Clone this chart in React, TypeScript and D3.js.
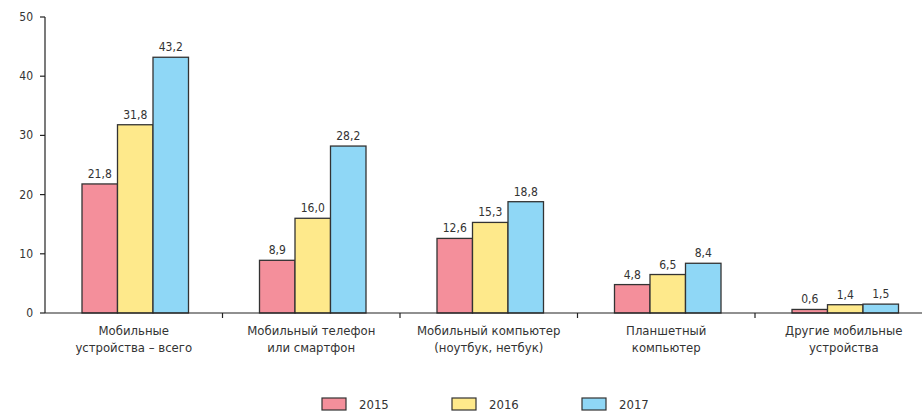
import * as d3 from 'd3';
import React, {useEffect, useRef} from 'react';

// categories (two-line labels) and series values
const categories = [
  ['Мобильные', 'устройства – всего'],
  ['Мобильный телефон', 'или смартфон'],
  ['Мобильный компьютер', '(ноутбук, нетбук)'],
  ['Планшетный', 'компьютер'],
  ['Другие мобильные', 'устройства'],
];
const years = ['2015', '2016', '2017'];
const values2015 = [21.8, 8.9, 12.6, 4.8, 0.6];
const values2016 = [31.8, 16.0, 15.3, 6.5, 1.4];
const values2017 = [43.2, 28.2, 18.8, 8.4, 1.5];
const yTicks = [0, 10, 20, 30, 40, 50];
const colors = ['#f48f9b', '#fee98b', '#8fd7f6'];

export default function App() {
  const ref = useRef<SVGSVGElement>(null);

  useEffect(() => {
    const svg = d3.select(ref.current);
    svg.selectAll('*').remove();

    const left = 45, right = 922, top = 17, bottom = 313;
    const font = '"DejaVu Sans Condensed", "DejaVu Sans", sans-serif';
    const series = [values2015, values2016, values2017];

    const x = d3.scaleBand<number>()
      .domain(d3.range(categories.length))
      .range([left, left + 177.5 * categories.length]);
    const inner = d3.scaleBand<number>()
      .domain(d3.range(years.length))
      .range([37, x.bandwidth() - 34]);
    const y = d3.scaleLinear().domain([0, 50]).range([bottom, top]);

    // y axis
    svg.append('line')
      .attr('x1', left).attr('x2', left)
      .attr('y1', top).attr('y2', bottom)
      .attr('stroke', '#222').attr('stroke-width', 1.2);
    const yt = svg.append('g');
    yt.selectAll('line').data(yTicks).enter().append('line')
      .attr('x1', left - 5).attr('x2', left)
      .attr('y1', d => y(d)).attr('y2', d => y(d))
      .attr('stroke', '#222').attr('stroke-width', 1.2);
    yt.selectAll('text').data(yTicks).enter().append('text')
      .attr('x', left - 12).attr('y', d => y(d) + 4)
      .attr('text-anchor', 'end')
      .style('font-family', font).style('font-size', '12px')
      .attr('fill', '#333')
      .text(d => d);

    // bars
    series.forEach((vals, s) => {
      svg.append('g').selectAll('rect').data(vals).enter().append('rect')
        .attr('x', (d, i) => x(i)! + inner(s)!)
        .attr('y', d => y(d))
        .attr('width', inner.bandwidth())
        .attr('height', d => bottom - y(d))
        .attr('fill', colors[s])
        .attr('stroke', '#333').attr('stroke-width', 1.3);
      svg.append('g').selectAll('text').data(vals).enter().append('text')
        .attr('x', (d, i) => x(i)! + inner(s)! + inner.bandwidth() / 2)
        .attr('y', d => y(d) - 6)
        .attr('text-anchor', 'middle')
        .style('font-family', font).style('font-size', '12px')
        .attr('fill', '#333')
        .text(d => d.toFixed(1).replace('.', ','));
    });

    // x axis
    svg.append('line')
      .attr('x1', left).attr('x2', right)
      .attr('y1', bottom).attr('y2', bottom)
      .attr('stroke', '#222').attr('stroke-width', 1.2);
    svg.append('g').selectAll('line').data(d3.range(1, categories.length)).enter().append('line')
      .attr('x1', d => x(d)!).attr('x2', d => x(d)!)
      .attr('y1', bottom).attr('y2', bottom + 5)
      .attr('stroke', '#222').attr('stroke-width', 1.2);
    categories.forEach((lines, i) => {
      const t = svg.append('text')
        .attr('text-anchor', 'middle')
        .style('font-family', font).style('font-size', '13px')
        .attr('fill', '#333');
      lines.forEach((ln, k) => {
        t.append('tspan')
          .attr('x', x(i)! + x.bandwidth() / 2)
          .attr('y', 335 + k * 17)
          .text(ln);
      });
    });

    // legend
    const lg = svg.append('g');
    years.forEach((yr, s) => {
      const lx = 322 + s * 130;
      lg.append('rect')
        .attr('x', lx).attr('y', 398).attr('width', 24).attr('height', 12)
        .attr('fill', colors[s]).attr('stroke', '#333').attr('stroke-width', 1.2);
      lg.append('text')
        .attr('x', lx + 37).attr('y', 409)
        .style('font-family', font).style('font-size', '13px')
        .attr('fill', '#333')
        .text(yr);
    });
  }, []);

  return (
    <svg ref={ref} width={924} height={414}
      style={{position: 'absolute', left: 0, top: 0, background: '#fff'}} />
  );
}
